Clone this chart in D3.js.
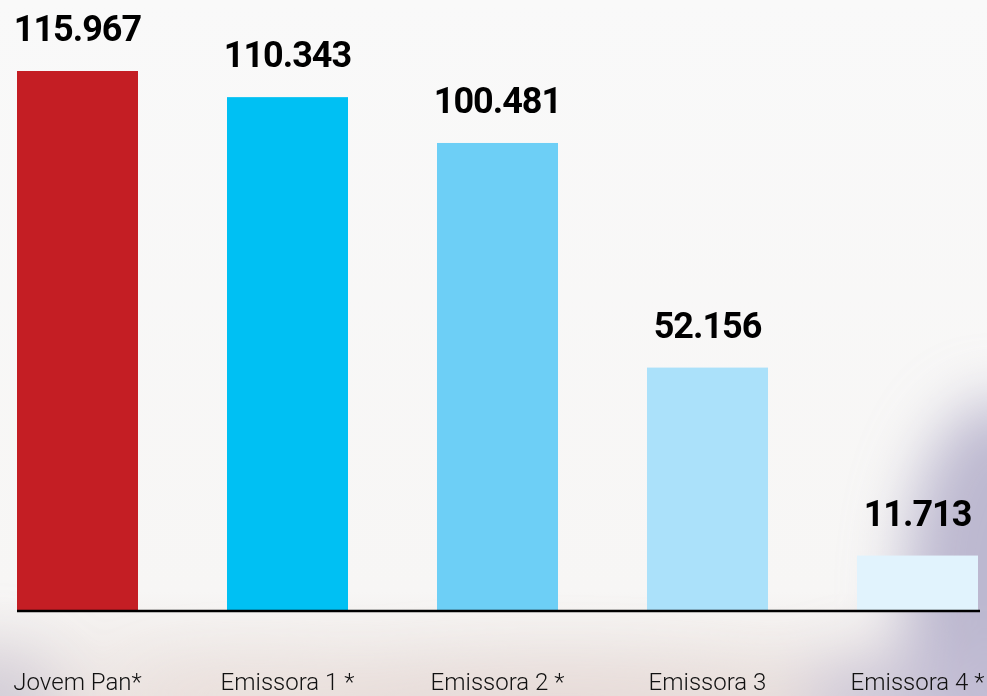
<!DOCTYPE html>
<html>
<head>
<meta charset="utf-8">
<script src="https://cdn.jsdelivr.net/npm/d3@7"></script>
<style>
  html, body { margin: 0; padding: 0; background: #f8f8f8; }
  svg { display: block; }
</style>
</head>
<body>
<div id="chart"></div>
<script>
const categories = ["Jovem Pan*", "Emissora 1 *", "Emissora 2 *", "Emissora 3", "Emissora 4 *"];
const values = [115967, 110343, 100481, 52156, 11713];
const valueLabels = ["115.967", "110.343", "100.481", "52.156", "11.713"];
const colors = ["#c41e24", "#00c0f3", "#6dcff6", "#abe1fa", "#e1f3fd"];

const W = 987, H = 696;
const svg = d3.select("#chart").append("svg").attr("width", W).attr("height", H);

// background (blurred photo impression)
const defs = svg.append("defs");
const blur = defs.append("filter").attr("id", "blur").attr("x", "-50%").attr("y", "-50%").attr("width", "200%").attr("height", "200%");
blur.append("feGaussianBlur").attr("stdDeviation", 30);
const bgLin = defs.append("linearGradient").attr("id", "bgLin").attr("x1", 0).attr("y1", 0).attr("x2", 0).attr("y2", 1);
bgLin.append("stop").attr("offset", "0%").attr("stop-color", "#f9f9f9");
bgLin.append("stop").attr("offset", "85%").attr("stop-color", "#f7f6f5");
bgLin.append("stop").attr("offset", "100%").attr("stop-color", "#ece4e1");
svg.append("rect").attr("width", W).attr("height", H).attr("fill", "url(#bgLin)");
const bg = svg.append("g").attr("filter", "url(#blur)");
bg.append("ellipse").attr("cx", 1000).attr("cy", 590).attr("rx", 95).attr("ry", 190).attr("fill", "#b8b4cd").attr("opacity", 0.95);
bg.append("ellipse").attr("cx", 930).attr("cy", 700).attr("rx", 140).attr("ry", 45).attr("fill", "#c4bfd6").attr("opacity", 0.8);
bg.append("ellipse").attr("cx", 560).attr("cy", 700).attr("rx", 260).attr("ry", 35).attr("fill", "#e4d7d4").attr("opacity", 0.7);
bg.append("ellipse").attr("cx", -10).attr("cy", 700).attr("rx", 70).attr("ry", 50).attr("fill", "#c9c4d4").attr("opacity", 0.7);
bg.append("ellipse").attr("cx", 250).attr("cy", 695).attr("rx", 120).attr("ry", 25).attr("fill", "#e8ddd9").attr("opacity", 0.7);

const x = d3.scaleBand().domain(categories).range([17, 978]).paddingInner(0.4238).paddingOuter(0);
const y = d3.scaleLinear().domain([0, 115967]).range([610, 71]);

const g = svg.append("g");

g.selectAll("rect.bar").data(categories).join("rect")
  .attr("class", "bar")
  .attr("x", d => x(d))
  .attr("width", x.bandwidth())
  .attr("y", (d, i) => y(values[i]))
  .attr("height", (d, i) => y(0) - y(values[i]))
  .attr("fill", (d, i) => colors[i]);

g.selectAll("text.val").data(categories).join("text")
  .attr("class", "val")
  .attr("x", d => x(d) + x.bandwidth() / 2)
  .attr("y", (d, i) => y(values[i]) - 30)
  .attr("text-anchor", "middle")
  .style("font-family", "Roboto, 'Liberation Sans', sans-serif")
  .style("font-weight", 700)
  .style("font-size", "36px")
  .style("letter-spacing", "-1px")
  .attr("fill", "#000")
  .text((d, i) => valueLabels[i]);

// axis
const axis = d3.axisBottom(x).tickSize(0).tickPadding(0);
const ax = svg.append("g").attr("transform", `translate(0,${y(0) + 1})`).call(axis);
ax.select(".domain").attr("d", "M17,0H980").attr("stroke", "#000").attr("stroke-width", 2.5);
ax.selectAll(".tick text")
  .attr("y", 79)
  .attr("dy", 0)
  .style("font-family", "Roboto, sans-serif")
  .style("font-weight", 300)
  .style("font-size", "24px")
  .attr("fill", "#111");
</script>
</body>
</html>
